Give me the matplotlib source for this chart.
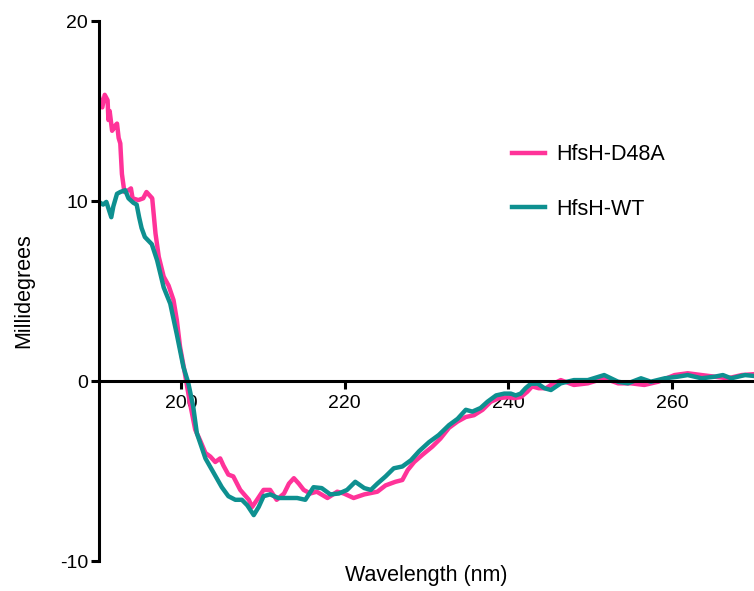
import matplotlib
matplotlib.use("Agg")
import matplotlib.pyplot as plt

plt.rcParams['font.family'] = ['Liberation Sans', 'DejaVu Sans']
plt.rcParams['axes.unicode_minus'] = False

# HfsH-D48A (pink)
d48a_wl = [190.0, 190.4, 190.7, 191.05, 191.15, 191.3, 191.6, 192.0, 192.2, 192.4, 192.6, 192.8,
           193.1, 193.6, 193.9, 194.1, 194.8, 195.4, 195.8, 196.2, 196.5, 196.9, 197.3, 197.9,
           198.5, 199.1, 199.5, 199.9, 200.5, 201.1, 201.75, 202.35, 203.0, 203.6, 204.2, 204.8,
           205.2, 205.8, 206.4, 207.25, 208.3, 208.7, 209.3, 210.1, 210.9, 211.7, 212.6, 213.2,
           213.8, 214.4, 215.0, 215.8, 216.6, 217.9, 219.1, 219.9, 221.1, 222.4, 224.0, 225.0,
           226.2, 227.05, 227.7, 228.5, 229.5, 230.7, 231.7, 232.75, 233.8, 234.8, 235.8, 236.85,
           237.85, 238.9, 239.9, 240.7, 241.5, 242.3, 242.9, 243.7, 244.6, 245.2, 246.4, 248.0,
           249.7, 251.7, 253.4, 255.0, 256.6, 258.3, 260.3, 261.9, 263.6, 265.2, 266.8, 268.5,
           270.0]
d48a_md = [15.8, 15.2, 15.9, 15.6, 14.5, 15.0, 13.9, 14.2, 14.3, 13.5, 13.2, 11.5,
           10.5, 10.6, 10.7, 10.15, 10.05, 10.15, 10.5, 10.3, 10.15, 8.2, 6.9, 5.8,
           5.3, 4.5, 3.4, 1.9, 0.4, -1.2, -2.7, -3.3, -4.0, -4.2, -4.5, -4.3,
           -4.7, -5.2, -5.3, -6.05, -6.6, -7.0, -6.6, -6.05, -6.05, -6.6, -6.25, -5.7,
           -5.4, -5.7, -6.05, -6.25, -6.15, -6.5, -6.15, -6.25, -6.5, -6.3, -6.15, -5.8,
           -5.6, -5.5, -4.95, -4.5, -4.1, -3.65, -3.2, -2.6, -2.25, -2.0, -1.9, -1.6,
           -1.15, -0.95, -0.9, -0.95, -0.9, -0.6, -0.3, -0.4, -0.4, -0.22, 0.05, -0.22,
           -0.13, 0.15, -0.13, -0.13, -0.22, -0.04, 0.33, 0.43, 0.33, 0.24, 0.15, 0.33,
           0.38]

# HfsH-WT (teal)
wt_wl = [190.0, 190.5, 190.9, 191.5, 191.75, 192.2, 192.6, 193.2, 193.6, 194.2, 194.6, 194.9,
         195.2, 195.6, 196.45, 197.1, 197.9, 198.7, 199.5, 200.3, 200.9, 201.5, 201.95, 203.0,
         204.0, 205.0, 205.8, 206.65, 207.45, 208.1, 208.9, 209.5, 210.1, 210.9, 211.9, 213.0,
         214.2, 215.2, 216.2, 217.2, 218.25, 219.3, 220.3, 221.3, 222.4, 223.2, 224.0, 225.0,
         226.0, 227.05, 228.1, 229.1, 230.3, 231.5, 232.75, 233.8, 234.8, 235.6, 236.6, 237.45,
         238.5, 239.5, 240.3, 240.9, 241.5, 242.1, 242.75, 243.6, 244.4, 245.2, 246.4, 248.0,
         249.7, 251.7, 253.4, 254.6, 256.2, 257.4, 259.1, 260.7, 261.9, 263.6, 265.2, 266.2,
         267.2, 268.9, 270.0]
wt_md = [9.95, 9.8, 9.95, 9.1, 9.7, 10.4, 10.5, 10.6, 10.15, 9.9, 9.8, 9.1,
         8.5, 8.0, 7.6, 6.7, 5.2, 4.3, 2.6, 0.8, -0.1, -1.4, -2.9, -4.3,
         -5.1, -5.9, -6.4, -6.6, -6.6, -6.9, -7.45, -7.0, -6.4, -6.3, -6.5, -6.5,
         -6.5, -6.6, -5.9, -5.95, -6.3, -6.25, -6.05, -5.6, -5.95, -6.05, -5.7, -5.3,
         -4.85, -4.75, -4.4, -3.9, -3.4, -3.0, -2.45, -2.1, -1.6, -1.7, -1.5, -1.15,
         -0.8, -0.7, -0.7, -0.8, -0.7, -0.4, -0.15, -0.15, -0.4, -0.5, -0.13, 0.05,
         0.05, 0.33, -0.04, -0.13, 0.15, -0.04, 0.15, 0.24, 0.33, 0.15, 0.24, 0.33,
         0.15, 0.33, 0.28]

x_ticks = [200, 220, 240, 260]
y_ticks = [-10, 0, 10, 20]

fig = plt.figure(figsize=(7.54, 5.91), dpi=100)
ax = fig.add_axes([99/754, 1 - 561/591, 1 - 99/754, (561 - 21)/591])

ax.plot(d48a_wl, d48a_md, color='#ff3399', lw=3.2, label='HfsH-D48A', solid_joinstyle='round')
ax.plot(wt_wl, wt_md, color='#0e9090', lw=3.2, label='HfsH-WT', solid_joinstyle='round')

ax.set_xlim(190, 270)
ax.set_ylim(-10, 20)
ax.spines['top'].set_visible(False)
ax.spines['right'].set_visible(False)
ax.spines['bottom'].set_position(('data', 0))
for s in ('left', 'bottom'):
    ax.spines[s].set_linewidth(2.2)
ax.set_xticks(x_ticks)
ax.set_yticks(y_ticks)
ax.tick_params(axis='both', width=2.2, length=6, labelsize=14)
ax.tick_params(axis='x', pad=4)
ax.tick_params(axis='y', pad=2)

ax.set_ylabel('Millidegrees', fontsize=15.5, labelpad=18)
fig.text(426/754, 1 - 576/591, 'Wavelength (nm)', fontsize=15.5, ha='center', va='center')

leg = ax.legend(loc='upper left', bbox_to_anchor=(493/754, 1 - 125/591),
                bbox_transform=fig.transFigure, frameon=False, fontsize=15.5,
                handlelength=1.5, labelspacing=1.55, handletextpad=0.55)

fig.savefig('out.png', dpi=100)
